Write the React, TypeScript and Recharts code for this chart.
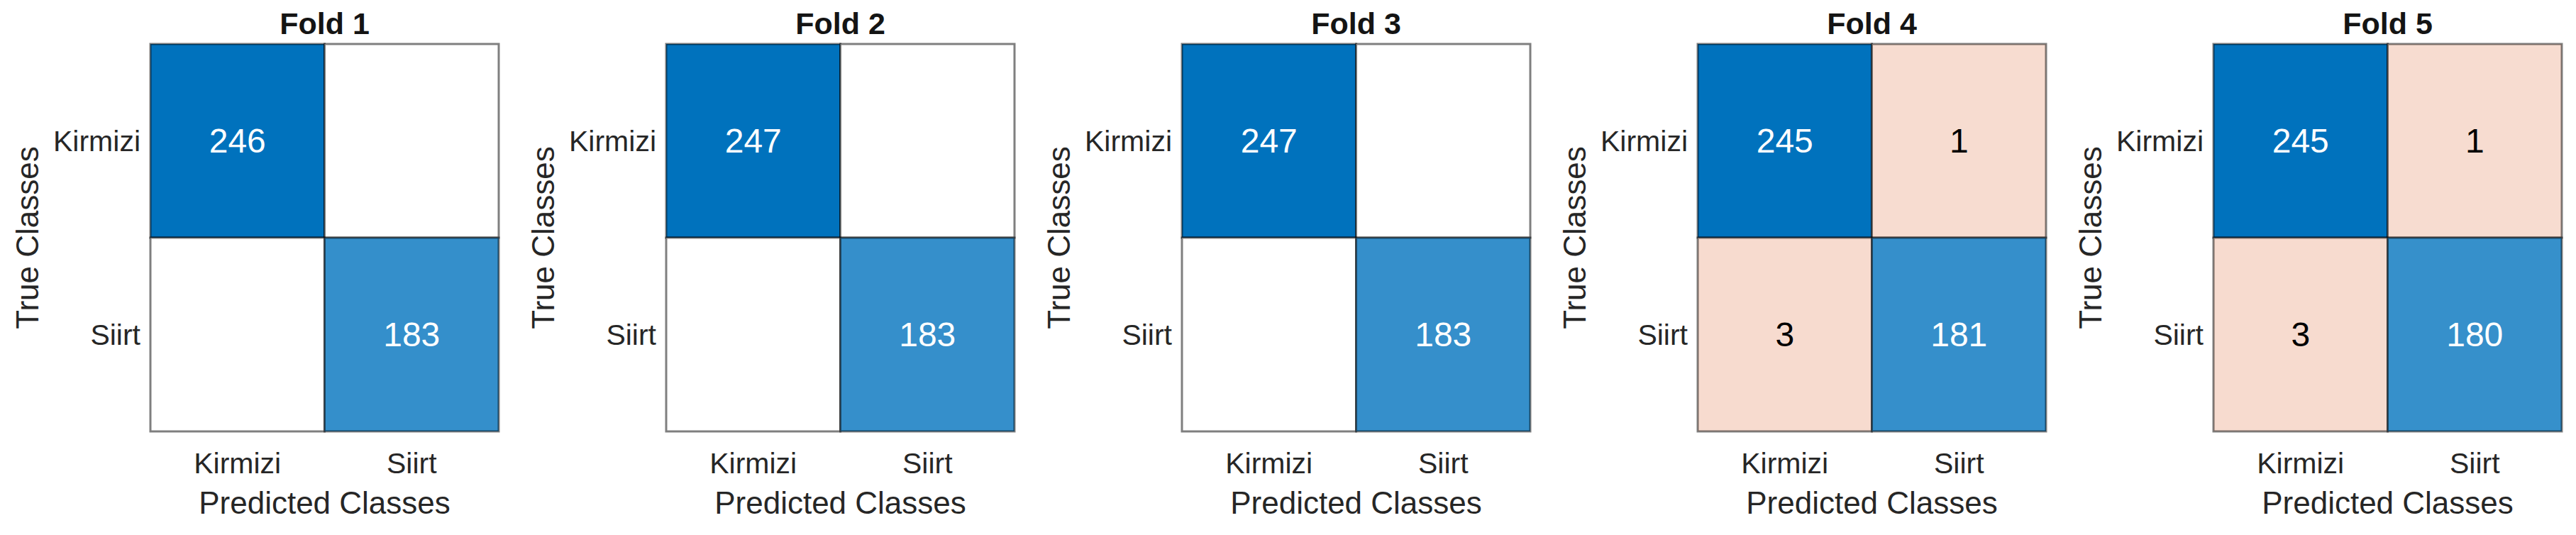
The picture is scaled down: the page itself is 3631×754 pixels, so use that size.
import React from "react";
import { ScatterChart, Scatter, XAxis, YAxis, Label } from "recharts";

// class names, row = true class, col = predicted class
const CLASSES = ["Kirmizi", "Siirt"];
const FOLD_TITLES = ["Fold 1", "Fold 2", "Fold 3", "Fold 4", "Fold 5"];

const FOLD1 = [[246, 0], [0, 183]];
const FOLD2 = [[247, 0], [0, 183]];
const FOLD3 = [[247, 0], [0, 183]];
const FOLD4 = [[245, 1], [3, 181]];
const FOLD5 = [[245, 1], [3, 180]];
const FOLDS = [FOLD1, FOLD2, FOLD3, FOLD4, FOLD5];

const FONT = '"Liberation Sans", Arial, Helvetica, sans-serif';
const DIAG_RGB = [0, 114, 189]; // MATLAB blue
const OFF_RGB = [217, 83, 25]; // MATLAB orange

const PANEL_W = 727;
const HEIGHT = 754;
const MARGIN = { top: 62, right: 24, bottom: 36, left: 32 };
const Y_AXIS_W = 180;
const X_AXIS_H = 110;
const PLOT_W = PANEL_W - MARGIN.left - MARGIN.right - Y_AXIS_W;
const PLOT_H = HEIGHT - MARGIN.top - MARGIN.bottom - X_AXIS_H;

function mix(rgb: number[], t: number) {
  const c = rgb.map((v) => Math.round(255 + (v - 255) * t));
  return `rgb(${c[0]},${c[1]},${c[2]})`;
}

function toCells(matrix: number[][]) {
  const out: { row: number; col: number; value: number }[] = [];
  matrix.forEach((r, i) => r.forEach((v, j) => out.push({ row: i, col: j, value: v })));
  return out;
}

function makeCellShape(max: number) {
  return (props: any) => {
    const { cx, cy, payload } = props;
    const w = PLOT_W / 2;
    const h = PLOT_H / 2;
    const v = payload.value;
    const diag = payload.row === payload.col;
    let fill = "#ffffff";
    if (v > 0) fill = mix(diag ? DIAG_RGB : OFF_RGB, 0.2 + (0.8 * v) / max);
    return (
      <g>
        <rect
          x={cx - w / 2}
          y={cy - h / 2}
          width={w}
          height={h}
          fill={fill}
          stroke="rgba(0,0,0,0.5)"
          strokeWidth={3}
        />
        {v > 0 && (
          <text
            x={cx}
            y={cy}
            dy="0.35em"
            textAnchor="middle"
            fontSize={48}
            fontFamily={FONT}
            fill={diag ? "#ffffff" : "#000000"}
          >
            {v}
          </text>
        )}
      </g>
    );
  };
}

const XTick = ({ x, y, payload }: any) => (
  <text x={x} y={y + 45} dy="0.35em" textAnchor="middle" fontSize={41} fontFamily={FONT} fill="#262626">
    {CLASSES[payload.value]}
  </text>
);

const YTick = ({ x, y, payload }: any) => (
  <text x={x - 14} y={y} dy="0.35em" textAnchor="end" fontSize={41} fontFamily={FONT} fill="#262626">
    {CLASSES[payload.value]}
  </text>
);

const XLabel = ({ viewBox }: any) => (
  <text
    x={viewBox.x + viewBox.width / 2}
    y={viewBox.y + 101}
    dy="0.35em"
    textAnchor="middle"
    fontSize={44}
    fontFamily={FONT}
    fill="#262626"
  >
    Predicted Classes
  </text>
);

const YLabel = ({ viewBox }: any) => {
  const cx = viewBox.x + viewBox.width - 173;
  const cy = viewBox.y + viewBox.height / 2;
  return (
    <text
      x={cx}
      y={cy}
      dy="0.35em"
      textAnchor="middle"
      transform={`rotate(-90, ${cx}, ${cy})`}
      fontSize={44}
      fontFamily={FONT}
      fill="#262626"
    >
      True Classes
    </text>
  );
};

function FoldPanel({ title, matrix }: { title: string; matrix: number[][] }) {
  const cells = toCells(matrix);
  const max = Math.max(...cells.map((c) => c.value));
  return (
    <div style={{ position: "relative", width: PANEL_W, height: HEIGHT }}>
      <div
        style={{
          position: "absolute",
          left: MARGIN.left + Y_AXIS_W,
          width: PLOT_W,
          top: 12,
          textAlign: "center",
          fontFamily: FONT,
          fontWeight: "bold",
          fontSize: 43,
          lineHeight: "43px",
          color: "#141414",
        }}
      >
        {title}
      </div>
      <ScatterChart width={PANEL_W} height={HEIGHT} margin={MARGIN}>
        <XAxis
          type="number"
          dataKey="col"
          domain={[-0.5, 1.5]}
          ticks={[0, 1]}
          axisLine={false}
          tickLine={false}
          tickSize={0}
          tickMargin={0}
          height={X_AXIS_H}
          tick={<XTick />}
          interval={0}
        >
          <Label content={<XLabel />} />
        </XAxis>
        <YAxis
          type="number"
          dataKey="row"
          domain={[-0.5, 1.5]}
          ticks={[0, 1]}
          reversed
          axisLine={false}
          tickLine={false}
          tickSize={0}
          tickMargin={0}
          width={Y_AXIS_W}
          tick={<YTick />}
          interval={0}
        >
          <Label content={<YLabel />} />
        </YAxis>
        <Scatter data={cells} shape={makeCellShape(max)} isAnimationActive={false} />
      </ScatterChart>
    </div>
  );
}

export default function App() {
  return (
    <div
      style={{
        position: "absolute",
        left: 0,
        top: 0,
        width: 3631,
        height: HEIGHT,
        background: "#ffffff",
        display: "flex",
      }}
    >
      {FOLDS.map((m, i) => (
        <FoldPanel key={FOLD_TITLES[i]} title={FOLD_TITLES[i]} matrix={m} />
      ))}
    </div>
  );
}
